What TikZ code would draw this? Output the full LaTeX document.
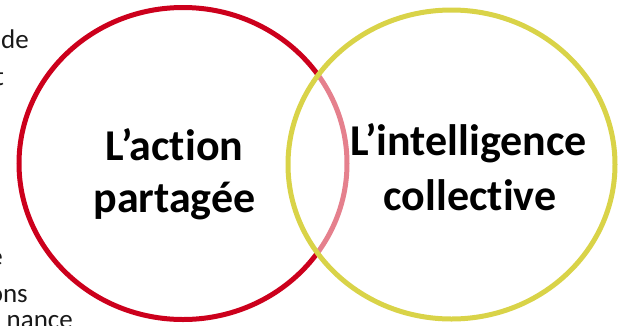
\documentclass[tikz,border=0pt]{standalone}
\usepackage{fontspec}
\setmainfont{Carlito}[Ligatures={NoCommon,NoRare,NoDiscretionary}]
\definecolor{vred}{RGB}{204,0,28}
\definecolor{vyel}{RGB}{217,211,72}
\tikzset{
  ring/.style={line width=5pt},
  big/.style={font=\fontsize{44}{52}\selectfont\bfseries, text=black, inner sep=0pt, anchor=base},
  small/.style={font=\fontsize{27}{32}\selectfont, text=black!90, inner sep=0pt, anchor=base east}
}
\begin{document}
\begin{tikzpicture}[x=1pt,y=-1pt]
\useasboundingbox (0,0) rectangle (627,325);
\clip (0,0) rectangle (627,325);
\node[small] (s1) at (29,48) {de};
\node[small] (s2) at (4,85) {t};
\node[small] (s3) at (3,265) {e};
\node[small] (s4) at (28,302) {ons};
\node[small] (s5) at (73,328) {nance};
\draw[ring, draw=vred] (183,163.5) ellipse [x radius=164, y radius=156];
\draw[ring, draw=vyel, fill=white, fill opacity=0.5] (451.5,164.5) ellipse [x radius=163.5, y radius=154.5];
\node[big] (a1) at (174.5,160) {L’action};
\node[big] (a2) at (174.5,212) {partagée};
\node[big] (b1) at (468.5,155) {L’intelligence};
\node[big] (b2) at (470,210) {collective};
\end{tikzpicture}
\end{document}
